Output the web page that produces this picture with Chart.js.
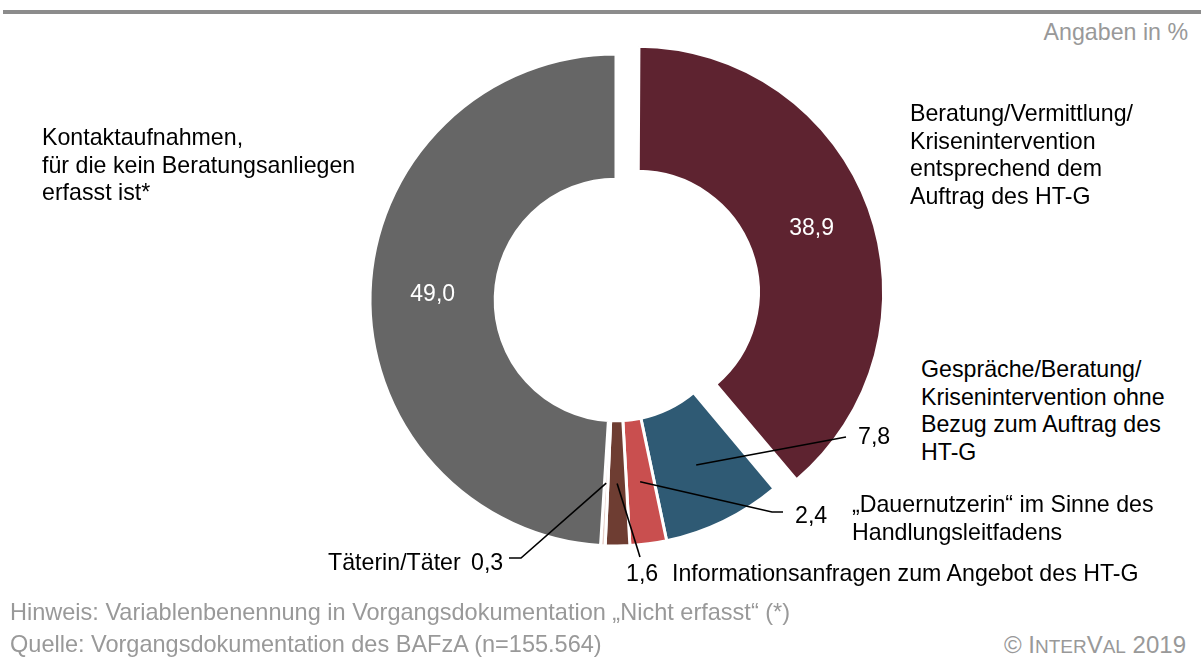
<!DOCTYPE html>
<html lang="de">
<head>
    <meta charset="UTF-8">
    <title>Vorgangsdokumentation BAFzA</title>
    <script src="https://cdn.jsdelivr.net/npm/chart.js"></script>
    <style>
        body {
            margin: 0;
            width: 1204px;
            height: 659px;
            position: relative;
            overflow: hidden;
            background: #ffffff;
            font-family: 'Liberation Sans', Arial, sans-serif;
            color: #000;
        }
        .topline {
            position: absolute;
            left: 3px;
            right: 3px;
            top: 10px;
            height: 4px;
            background: #8c8c8c;
        }
        .chart-box {
            position: absolute;
            left: 316px;
            top: 0;
            width: 600px;
            height: 600px;
        }
        .lbl {
            position: absolute;
            font-size: 23.2px;
            line-height: 27.6px;
            white-space: nowrap;
        }
        .gray { color: #999999; }
        .foot {
            position: absolute;
            font-size: 24px;
            line-height: 28px;
            color: #999999;
            white-space: nowrap;
            transform-origin: left center;
            transform: scaleX(0.98);
        }
        .sc { font-size: 19px; }
    </style>
</head>
<body>
    <div class="topline"></div>
    <div class="lbl gray" style="right:16px; top:19px;">Angaben in %</div>

    <div class="chart-box"><canvas id="donut" width="600" height="600"></canvas></div>

    <div class="lbl" style="left:42px; top:124px;">Kontaktaufnahmen,<br>für die kein Beratungsanliegen<br>erfasst ist*</div>
    <div class="lbl" style="left:910px; top:100px;">Beratung/Vermittlung/<br>Krisenintervention<br>entsprechend dem<br>Auftrag des HT-G</div>
    <div class="lbl" style="left:921px; top:356px;">Gespräche/Beratung/<br>Krisenintervention ohne<br>Bezug zum Auftrag des<br>HT-G</div>
    <div class="lbl" style="left:852px; top:491px;">„Dauernutzerin“ im Sinne des<br>Handlungsleitfadens</div>
    <div class="lbl" style="left:672px; top:560px;">Informationsanfragen zum Angebot des HT-G</div>
    <div class="lbl" style="left:328px; top:549px;">Täterin/Täter</div>

    <div class="lbl" id="v1" style="left:858px; top:423px;"></div>
    <div class="lbl" id="v2" style="left:795px; top:502px;"></div>
    <div class="lbl" id="v3" style="left:626px; top:560px;"></div>
    <div class="lbl" id="v4" style="left:471px; top:549px;"></div>

    <div class="foot" style="left:10px; top:598px;">Hinweis: Variablenbenennung in Vorgangsdokumentation „Nicht erfasst“ (*)</div>
    <div class="foot" style="left:10px; top:630px;">Quelle: Vorgangsdokumentation des BAFzA (n=155.564)</div>
    <div class="lbl gray" style="right:18px; top:631px; font-size:24px;">© I<span class="sc">NTER</span>V<span class="sc">AL</span> 2019</div>

    <script>
        // Werte in Prozent, im Uhrzeigersinn ab 12 Uhr
        const categories = [
            'Beratung/Vermittlung/Krisenintervention entsprechend dem Auftrag des HT-G',
            'Gespräche/Beratung/Krisenintervention ohne Bezug zum Auftrag des HT-G',
            '„Dauernutzerin“ im Sinne des Handlungsleitfadens',
            'Informationsanfragen zum Angebot des HT-G',
            'Täterin/Täter',
            'Kontaktaufnahmen, für die kein Beratungsanliegen erfasst ist*'
        ];
        const values = [38.9, 7.8, 2.4, 1.6, 0.3, 49.0];
        const colors = ['#5e2330', '#2f5a74', '#c94f4f', '#6e3d32', '#e6cfc9', '#666666'];

        const fmt = v => v.toFixed(1).replace('.', ',');

        // Werte neben den Führungslinien
        document.getElementById('v1').innerText = fmt(values[1]);
        document.getElementById('v2').innerText = fmt(values[2]);
        document.getElementById('v3').innerText = fmt(values[3]);
        document.getElementById('v4').innerText = fmt(values[4]);

        const OFFSET = 92; // Chart.js verschiebt um offset/4

        // Mittelpunkt eines Segments (inkl. Verschiebung)
        function centroid(arc, shift) {
            const p = arc.getProps(['x', 'y', 'startAngle', 'endAngle', 'innerRadius', 'outerRadius']);
            const a = (p.startAngle + p.endAngle) / 2;
            const r = (p.innerRadius + p.outerRadius) / 2 + shift;
            return { x: p.x + Math.cos(a) * r, y: p.y + Math.sin(a) * r };
        }

        // Führungslinien (Endpunkte relativ zur Seite) und weiße Innenbeschriftungen
        const leaders = {
            1: [[846, 437]],
            2: [[772, 512], [783, 512]],
            3: [[640, 557]],
            4: [[521, 558], [509, 558]]
        };

        const labelPlugin = {
            id: 'labelPlugin',
            afterDatasetUpdate(chart, args) {
                // Chart.js vergrößert den Radius eines versetzten Segments, hier zurücknehmen
                const arc = chart.getDatasetMeta(args.index).data[0];
                const fix = 1 - Math.sin(Math.min(Math.PI, arc.circumference));
                const grow = OFFSET / 4 * fix;
                arc.outerRadius -= grow;
                arc.innerRadius -= grow;
            },
            afterDatasetsDraw(chart) {
                const ctx = chart.ctx;
                const arcs = chart.getDatasetMeta(0).data;
                const box = chart.canvas.getBoundingClientRect();
                ctx.save();
                ctx.strokeStyle = '#000';
                ctx.lineWidth = 1.6;
                Object.keys(leaders).forEach(i => {
                    const c = centroid(arcs[i], 0);
                    ctx.beginPath();
                    ctx.moveTo(c.x, c.y);
                    leaders[i].forEach(pt => ctx.lineTo(pt[0] - box.left, pt[1] - box.top));
                    ctx.stroke();
                });
                ctx.fillStyle = '#fff';
                ctx.font = '23px "Liberation Sans", Arial, sans-serif';
                ctx.textAlign = 'center';
                ctx.textBaseline = 'middle';
                [0, 5].forEach(i => {
                    const c = centroid(arcs[i], i === 0 ? OFFSET / 4 + 10 : 0);
                    ctx.fillText(fmt(values[i]), c.x, c.y);
                });
                ctx.restore();
            }
        };

        new Chart(document.getElementById('donut'), {
            type: 'doughnut',
            data: {
                labels: categories,
                datasets: [{
                    data: values,
                    backgroundColor: colors,
                    borderColor: '#ffffff',
                    borderWidth: 3,
                    offset: values.map((v, i) => i === 0 ? OFFSET : 0)
                }]
            },
            options: {
                responsive: false,
                animation: false,
                radius: 246,
                cutout: 124,
                layout: { padding: 0 },
                plugins: {
                    legend: { display: false },
                    tooltip: { enabled: false }
                }
            },
            plugins: [labelPlugin]
        });
    </script>
</body>
</html>
